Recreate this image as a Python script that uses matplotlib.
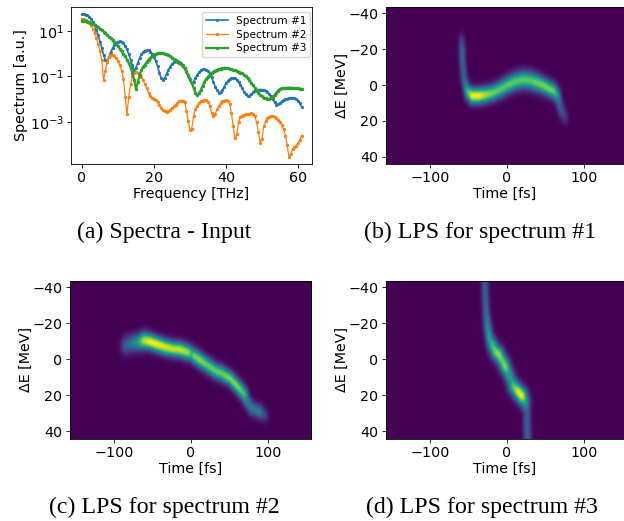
import numpy as np
import matplotlib
matplotlib.use("Agg")
import matplotlib.pyplot as plt
from matplotlib.ticker import NullLocator, FixedLocator

W, H = 624, 521

# log10 of spectrum, one value every 0.5 THz
frequency_thz = [i * 0.5 for i in range(123)]
log_s1 = [1.75,1.75,1.72,1.69,1.63,1.54,1.41,1.24,1.04,0.80,
          0.53,0.25,-0.06,-0.28,-0.38,-0.13,0.07,0.24,0.37,0.46,
          0.53,0.54,0.51,0.45,0.34,0.19,-0.03,-0.27,-0.52,-0.76,
          -0.62,-0.40,-0.19,-0.03,0.07,0.13,0.15,0.14,0.09,0.0,
          -0.14,-0.33,-0.56,-0.84,-1.08,-1.16,-1.06,-0.89,-0.72,-0.57,
          -0.46,-0.38,-0.33,-0.32,-0.35,-0.42,-0.52,-0.64,-0.80,-1.0,
          -1.18,-1.30,-1.24,-1.07,-0.94,-0.82,-0.74,-0.69,-0.67,-0.70,
          -0.76,-0.87,-1.04,-1.24,-1.45,-1.61,-1.71,-1.70,-1.60,-1.46,
          -1.30,-1.20,-1.12,-1.08,-1.07,-1.09,-1.16,-1.25,-1.38,-1.52,
          -1.67,-1.79,-1.87,-1.85,-1.79,-1.70,-1.62,-1.59,-1.58,-1.58,
          -1.58,-1.59,-1.62,-1.68,-1.77,-1.88,-2.0,-2.14,-2.24,-2.23,
          -2.18,-2.10,-2.04,-2.0,-1.98,-1.97,-1.96,-1.95,-1.95,-1.98,
          -2.06,-2.18,-2.33]
log_s2 = [1.53,1.53,1.50,1.45,1.36,1.24,1.10,0.92,0.70,0.44,
          0.12,-0.30,-1.17,-0.75,-0.35,-0.13,-0.05,-0.04,-0.10,-0.20,
          -0.33,-0.50,-0.75,-1.10,-1.89,-2.65,-1.89,-1.35,-1.00,-0.85,
          -0.82,-0.85,-0.92,-1.03,-1.18,-1.35,-1.52,-1.72,-1.88,-1.96,
          -2.00,-2.05,-2.12,-2.25,-2.38,-2.47,-2.53,-2.55,-2.52,-2.47,
          -2.40,-2.32,-2.24,-2.16,-2.10,-2.07,-2.07,-2.12,-2.50,-2.95,
          -3.35,-3.30,-2.75,-2.45,-2.28,-2.18,-2.10,-2.06,-2.04,-2.05,
          -2.12,-2.30,-2.60,-2.73,-2.65,-2.45,-2.30,-2.18,-2.10,-2.07,
          -2.05,-2.07,-2.20,-2.60,-3.20,-3.72,-3.55,-3.00,-2.80,-2.72,
          -2.68,-2.67,-2.67,-2.65,-2.63,-2.64,-2.75,-3.00,-3.45,-3.92,
          -3.75,-3.20,-2.98,-2.85,-2.77,-2.73,-2.72,-2.77,-2.84,-2.92,
          -3.02,-3.15,-3.32,-3.60,-4.00,-4.55,-4.40,-4.20,-4.10,-4.05,
          -3.92,-3.80,-3.62]
log_s3 = [1.45,1.45,1.42,1.40,1.38,1.35,1.31,1.27,1.22,1.16,
          1.10,1.04,0.97,0.90,0.82,0.75,0.67,0.59,0.50,0.41,
          0.32,0.21,0.10,-0.01,-0.12,-0.26,-0.42,-0.62,-0.85,-1.15,
          -1.57,-1.25,-0.95,-0.72,-0.58,-0.48,-0.36,-0.27,-0.18,-0.10,
          -0.05,-0.01,0.01,0.03,0.03,0.02,0.0,-0.03,-0.07,-0.12,
          -0.17,-0.23,-0.30,-0.35,-0.40,-0.47,-0.55,-0.65,-0.78,-0.93,
          -1.10,-1.30,-1.50,-1.72,-1.82,-1.75,-1.60,-1.42,-1.25,-1.12,
          -1.02,-0.93,-0.85,-0.80,-0.75,-0.71,-0.68,-0.66,-0.64,-0.63,
          -0.63,-0.64,-0.66,-0.69,-0.72,-0.74,-0.77,-0.80,-0.83,-0.87,
          -0.92,-0.99,-1.07,-1.17,-1.28,-1.39,-1.50,-1.61,-1.72,-1.81,
          -1.88,-1.93,-1.97,-1.99,-2.00,-1.96,-1.90,-1.82,-1.72,-1.62,
          -1.55,-1.53,-1.52,-1.51,-1.50,-1.50,-1.50,-1.51,-1.52,-1.52,
          -1.53,-1.54,-1.55]
series_labels = ["Spectrum #1", "Spectrum #2", "Spectrum #3"]

# LPS ridge lines: time [fs], energy [MeV], intensity, sigma E, sigma t
lps1_t   = [-60,-59.5,-59,-58,-57,-55,-52,-46,-38,-30,-20,-10,0,10,20,30,40,50,60,65,67,70,75]
lps1_e   = [-25,-20,-15,-9,-4,0,4,6,6,5.5,4.5,2.5,0,-2,-3,-2.5,-1,1,3.5,6,10,14,18]
lps1_amp = [.14,.30,.32,.30,.32,.40,.70,1.0,1.0,.88,.78,.74,.74,.74,.74,.74,.78,.80,.76,.52,.32,.28,.14]
lps1_se  = [3,3,3,3,3,3,3,3,3,3,3,3.1,3.2,3.3,3.4,3.4,3.2,3,3,3,3,3,3]
lps1_st  = [3,3,3,3,3,3,3,3.5,4,4,4,4,4,4,4,4,4,4,3.5,3,3,3,3]

lps2_t   = [-88,-86,-78,-70,-62,-55,-45,-35,-25,-15,-5,0,3,10,20,30,40,50,60,68,72,78,88,95]
lps2_e   = [-7,-8,-9,-9.5,-10.5,-10,-8.5,-7,-6,-5.5,-4,-3.2,-2,0,3,6,8,10.5,15,19,23,27,29,31]
lps2_amp = [.14,.30,.42,.55,.90,1.0,1.0,.96,.92,.92,.85,.65,.78,.82,.76,.76,.76,.80,.80,.70,.42,.42,.42,.18]
lps2_se  = [3.4,3.4,3.2,3.2,3.2,3,2.9,2.9,2.9,2.9,2.9,2.9,2.9,2.9,2.9,2.9,2.9,2.7,2.7,2.7,2.7,2.7,2.7,2.7]
lps2_st  = [4,4,4,4,4,4,4.5,4.5,4.5,4.5,4,3.5,3.5,3.5,3.5,3.5,3.5,3.5,3.5,3.5,3.5,3.5,3.5,3.5]

lps3_t   = [-30,-29,-28,-26,-24,-20,-15,-12,-8,-3,0,5,8,14,18,22,25,25,26]
lps3_e   = [-46,-35,-25,-18,-12,-8,-4,-3,0,4,7,12,15,18,20,23,28,35,46]
lps3_amp = [.30,.30,.36,.48,.58,.68,.82,.86,.76,.82,.60,.55,.74,.96,1.0,.62,.30,.30,.30]
lps3_se  = [3,3,3,3,3,3,3,3,3,3,3,3,3,3,3,3,3,3,3]
lps3_st  = [3.2,3.2,3.2,3.5,3.5,4.2,4.5,4.5,4.5,4.5,4.5,4.5,5,5,5,4.5,3.5,3.5,3.5]

t_ticks = [-100, 0, 100]
e_ticks = [-40, -20, 0, 20, 40]
captions = ["(a) Spectra - Input", "(b) LPS for spectrum #1",
            "(c) LPS for spectrum #2", "(d) LPS for spectrum #3"]
caption_xy = [(164, 232), (480, 232), (164, 507), (482, 507)]


def axes_px(fig, l, t, r, b):
    return fig.add_axes([l / W, 1 - b / H, (r - l) / W, (b - t) / H])


def lps_image(rt, re, ra, rse, rst, tg, eg):
    s = np.linspace(0, len(rt) - 1, 900)
    k = np.arange(len(rt))
    st, se, sa, sse, sst = (np.interp(s, k, v) for v in (rt, re, ra, rse, rst))
    T, E = np.meshgrid(tg, eg)
    img = np.zeros_like(T)
    for a, b, c, d, f in zip(st, se, sa, sse, sst):
        img = np.maximum(img, c * np.exp(-0.5 * ((T - a) / f) ** 2 - 0.5 * ((E - b) / d) ** 2))
    return img


plt.rcParams["font.family"] = "DejaVu Sans"
FS = 10.3
fig = plt.figure(figsize=(W / 100, H / 100), dpi=100)

ax = axes_px(fig, 71, 7, 312, 164)
for vals, lab, ms, lw in zip((log_s1, log_s2, log_s3), series_labels, (2.3, 2.4, 2.5), (1.2, 0.9, 1.6)):
    ax.plot(frequency_thz, 10.0 ** np.array(vals), "-o", ms=ms, mew=0, lw=lw, label=lab)
ax.set_yscale("log")
ax.set_xlim(-3.05, 63.9)
ax.set_ylim(10 ** -4.85, 10 ** 2.05)
ax.yaxis.set_major_locator(FixedLocator([1e-3, 1e-1, 1e1]))
ax.yaxis.set_minor_locator(NullLocator())
ax.set_xticks([0, 20, 40, 60])
ax.tick_params(labelsize=FS, length=2.6, width=0.6, pad=2.5)
ax.set_xlabel("Frequency [THz]", fontsize=FS, labelpad=1.5)
ax.set_ylabel("Spectrum [a.u.]", fontsize=FS, labelpad=1.5)
ax.legend(fontsize=7.6, loc="upper right", bbox_to_anchor=(0.9925, 0.97), borderaxespad=0,
          labelspacing=0.36, handlelength=2.1, borderpad=0.38, handletextpad=0.7)
for sp in ax.spines.values():
    sp.set_linewidth(0.6)

panels = [((385.7, 7, 624, 164), (lps1_t, lps1_e, lps1_amp, lps1_se, lps1_st)),
          ((69.7, 281, 311, 438.7), (lps2_t, lps2_e, lps2_amp, lps2_se, lps2_st)),
          ((385.7, 281, 624, 438.7), (lps3_t, lps3_e, lps3_amp, lps3_se, lps3_st))]
tg = np.linspace(-158, 158, 240)
eg = np.linspace(-44, 44, 180)
for (box, ridge) in panels:
    a = axes_px(fig, *box)
    img = lps_image(*ridge, tg, eg)
    a.imshow(img, cmap="viridis", vmin=0, vmax=1, aspect="auto", interpolation="bilinear",
             extent=[tg[0], tg[-1], eg[-1], eg[0]])
    a.set_xlim(-158, -158 + (box[2] - box[0]) / 0.768)
    a.set_ylim(44, -43.5)
    a.set_xticks(t_ticks)
    a.set_yticks(e_ticks)
    a.tick_params(labelsize=FS, length=2.6, width=0.6, pad=2.5)
    a.set_xlabel("Time [fs]", fontsize=FS, labelpad=1.5)
    a.set_ylabel("ΔE [MeV]", fontsize=FS, labelpad=0.0)
    for sp in a.spines.values():
        sp.set_linewidth(0.6)

for s, (x, y) in zip(captions, caption_xy):
    fig.text(x / W, 1 - y / H, s, family="Liberation Serif", fontsize=17.2, ha="center", va="center")

fig.savefig("out.png", dpi=100)
